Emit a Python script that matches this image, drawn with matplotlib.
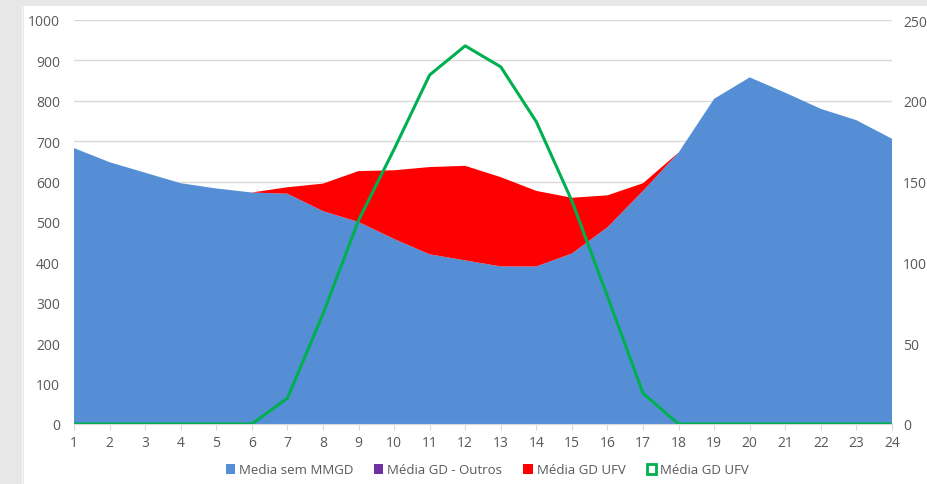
import matplotlib.pyplot as plt
from matplotlib.patches import Rectangle
from matplotlib.lines import Line2D
import numpy as np

plt.rcParams['font.family'] = ['Open Sans', 'DejaVu Sans']

# dados
horas = list(range(1, 25))
media_sem_mmgd = [683, 648, 622, 596, 583, 573, 570, 527, 500, 458, 420, 405,
                  390, 390, 422, 487, 577, 672, 805, 858, 820, 780, 752, 706]
media_gd_outros = [0] * 24
media_gd_ufv = [0, 0, 0, 0, 0, 0, 16, 68, 126, 170, 216, 234,
                221, 187, 138, 79, 19, 0, 0, 0, 0, 0, 0, 0]

azul = '#558ED5'
roxo = '#7030A0'
vermelho = '#FF0000'
verde = '#00B050'
cinza_txt = '#595959'

fig = plt.figure(figsize=(9.28, 4.85), dpi=100)
fig.patch.set_facecolor('#e7e7e7')
# painel branco (moldura do print)
fig.patches.append(Rectangle((24 / 928, 0), 1, 1 - 7 / 485, transform=fig.transFigure,
                             facecolor='white', edgecolor='none', zorder=-10))
fig.add_artist(Line2D([21.5 / 928, 21.5 / 928], [0, 1 - 7 / 485], color='#f7f7f7', lw=1,
                      zorder=-10))

ax = fig.add_axes([74 / 928, 1 - 425 / 485, (892 - 74) / 928, (425 - 21) / 485])
ax.set_facecolor('none')

ax.stackplot(horas, media_sem_mmgd, media_gd_outros, media_gd_ufv,
             colors=[azul, roxo, vermelho], linewidth=0, zorder=2)

ax.set_xlim(1, 24)
ax.set_ylim(0, 1000)
ax.set_yticks(range(0, 1001, 100))
ax.set_xticks(horas)
ax.grid(axis='y', color='#d9d9d9', lw=1, zorder=0)
ax.set_axisbelow(True)
for s in ['top', 'right', 'left']:
    ax.spines[s].set_visible(False)
ax.spines['bottom'].set_color('#d9d9d9')
ax.tick_params(axis='y', length=0, labelsize=10, labelcolor=cinza_txt, pad=10)
ax.tick_params(axis='x', length=4, color='#d9d9d9', labelsize=10, labelcolor=cinza_txt, pad=4)

ax2 = ax.twinx()
ax2.plot(horas, media_gd_ufv, color=verde, lw=2.2, zorder=3)
ax2.set_ylim(0, 250)
ax2.set_yticks(range(0, 251, 50))
for s in ['top', 'right', 'left', 'bottom']:
    ax2.spines[s].set_visible(False)
ax2.tick_params(axis='y', length=0, labelsize=10, labelcolor=cinza_txt, pad=8)

handles = [
    Rectangle((0, 0), 1, 1, facecolor=azul, edgecolor='none'),
    Rectangle((0, 0), 1, 1, facecolor=roxo, edgecolor='none'),
    Rectangle((0, 0), 1, 1, facecolor=vermelho, edgecolor='none'),
    Rectangle((0, 0), 1, 1, facecolor='white', edgecolor=verde, lw=2),
]
labels = ['Media sem MMGD', 'Média GD - Outros', 'Média GD UFV', 'Média GD UFV']
fig.legend(handles, labels, loc='center', bbox_to_anchor=(487 / 928, 1 - 471 / 485),
           ncol=4, frameon=False, fontsize=9.5, labelcolor=cinza_txt,
           handlelength=0.7, handleheight=0.7, handletextpad=0.3, columnspacing=1.6)

fig.savefig('out.png', dpi=100, facecolor=fig.get_facecolor())
